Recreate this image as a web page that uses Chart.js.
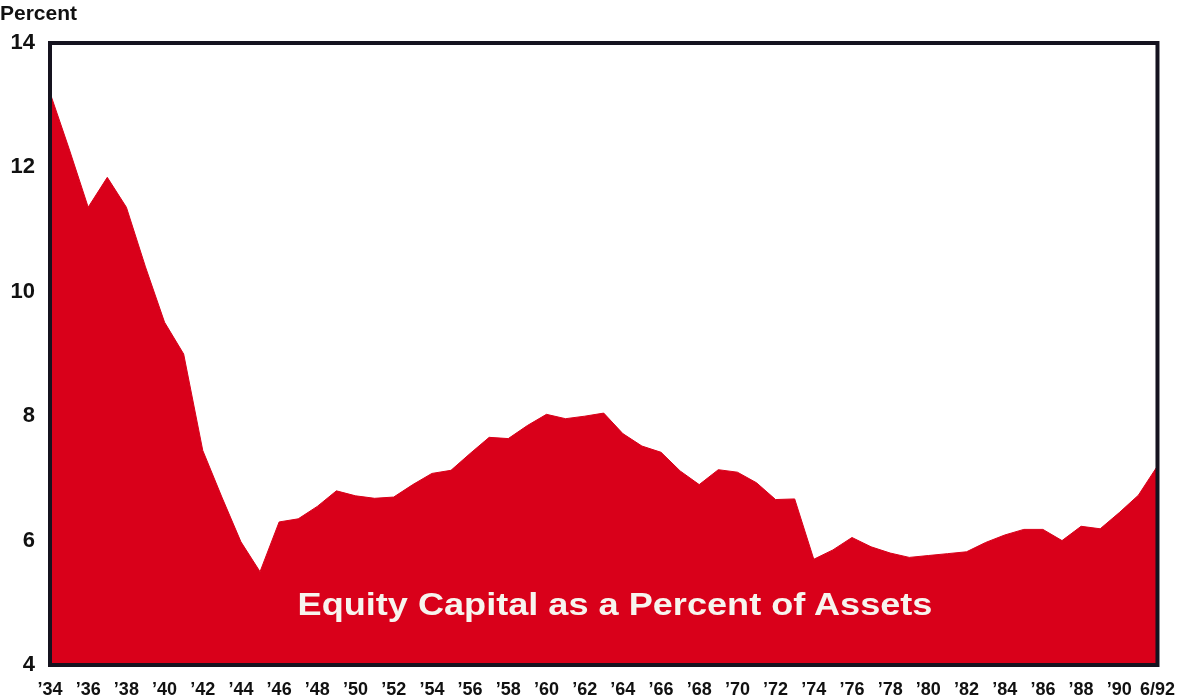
<!DOCTYPE html>
<html lang="en">
<head>
<meta charset="UTF-8">
<title>Equity Capital as a Percent of Assets</title>
<script src="https://cdn.jsdelivr.net/npm/chart.js"></script>
<style>
    html, body { margin: 0; padding: 0; background: #fff; }
    .wrap { position: relative; width: 1181px; height: 698px; }
    .unidade {
        position: absolute; left: 0; top: 1px;
        font: bold 21px "Liberation Sans", Arial, sans-serif; color: #111;
    }
    .rotulo {
        position: absolute; left: 0; width: 1230px; top: 587px; text-align: center;
        font: bold 31px "Liberation Sans", Arial, sans-serif; color: #f7f4ee;
        transform: scaleX(1.165); transform-origin: 615px 0;
        pointer-events: none;
    }
</style>
</head>
<body>
<div class="wrap">
    <canvas id="grafico" width="1181" height="698"></canvas>
    <div class="unidade">Percent</div>
    <div class="rotulo">Equity Capital as a Percent of Assets</div>
</div>

<script>
    // anos (rótulos do eixo x) - um ponto por ano, o último é junho/92
    const anos = ['\u201934', '\u201935', '\u201936', '\u201937', '\u201938', '\u201939',
        '\u201940', '\u201941', '\u201942', '\u201943', '\u201944', '\u201945', '\u201946', '\u201947',
        '\u201948', '\u201949', '\u201950', '\u201951', '\u201952', '\u201953', '\u201954', '\u201955',
        '\u201956', '\u201957', '\u201958', '\u201959', '\u201960', '\u201961', '\u201962', '\u201963',
        '\u201964', '\u201965', '\u201966', '\u201967', '\u201968', '\u201969', '\u201970', '\u201971',
        '\u201972', '\u201973', '\u201974', '\u201975', '\u201976', '\u201977', '\u201978', '\u201979',
        '\u201980', '\u201981', '\u201982', '\u201983', '\u201984', '\u201985', '\u201986', '\u201987',
        '\u201988', '\u201989', '\u201990', '\u201991', '6/92'];

    // capital próprio em % dos ativos
    const capital = [13.2, 12.3, 11.36, 11.84, 11.36, 10.4, 9.51, 9.0, 7.45, 6.7,
        5.98, 5.5, 6.3, 6.35, 6.55, 6.8, 6.72, 6.68, 6.7, 6.9,
        7.08, 7.13, 7.4, 7.66, 7.64, 7.85, 8.03, 7.96, 8.0, 8.05,
        7.72, 7.52, 7.42, 7.12, 6.9, 7.14, 7.1, 6.93, 6.66, 6.67,
        5.7, 5.85, 6.05, 5.9, 5.8, 5.73, 5.76, 5.79, 5.82, 5.97,
        6.09, 6.18, 6.18, 6.0, 6.23, 6.19, 6.45, 6.73, 7.2];

    const ticksY = [4, 6, 8, 10, 12, 14];

    const fonte = '"Liberation Sans", Arial, sans-serif';

    // moldura preta em volta da área do gráfico
    const moldura = {
        id: 'moldura',
        afterDatasetsDraw(chart) {
            const a = chart.chartArea;
            const ctx = chart.ctx;
            ctx.save();
            ctx.strokeStyle = '#15131f';
            ctx.lineWidth = 4;
            ctx.strokeRect(a.left, a.top, a.right - a.left, a.bottom - a.top);
            ctx.restore();
        }
    };

    const ctx = document.getElementById('grafico').getContext('2d');
    new Chart(ctx, {
        type: 'line',
        data: {
            labels: anos,
            datasets: [{
                data: capital,
                backgroundColor: '#d9001a',
                borderColor: '#d9001a',
                borderWidth: 1,
                pointRadius: 0,
                tension: 0,
                fill: 'start'
            }]
        },
        options: {
            responsive: false,
            animation: false,
            layout: { padding: { top: 43, right: 8, left: 0, bottom: 0 } },
            plugins: { legend: { display: false }, tooltip: { enabled: false } },
            scales: {
                x: {
                    offset: false,
                    grid: { display: false },
                    border: { display: false },
                    afterFit(scale) { scale.height = 33; },
                    ticks: {
                        autoSkip: false,
                        maxRotation: 0,
                        padding: 6,
                        color: '#111',
                        font: { family: fonte, size: 18, weight: 'bold' },
                        callback(valor, i) { return i % 2 === 0 ? anos[i] : ''; }
                    }
                },
                y: {
                    min: 4,
                    max: 14,
                    grid: { display: false },
                    border: { display: false },
                    afterFit(scale) { scale.width = 50; },
                    afterBuildTicks(scale) { scale.ticks = ticksY.map(v => ({ value: v })); },
                    ticks: {
                        padding: 7,
                        color: '#111',
                        font: { family: fonte, size: 22, weight: 'bold' }
                    }
                }
            }
        },
        plugins: [moldura]
    });
</script>
</body>
</html>
